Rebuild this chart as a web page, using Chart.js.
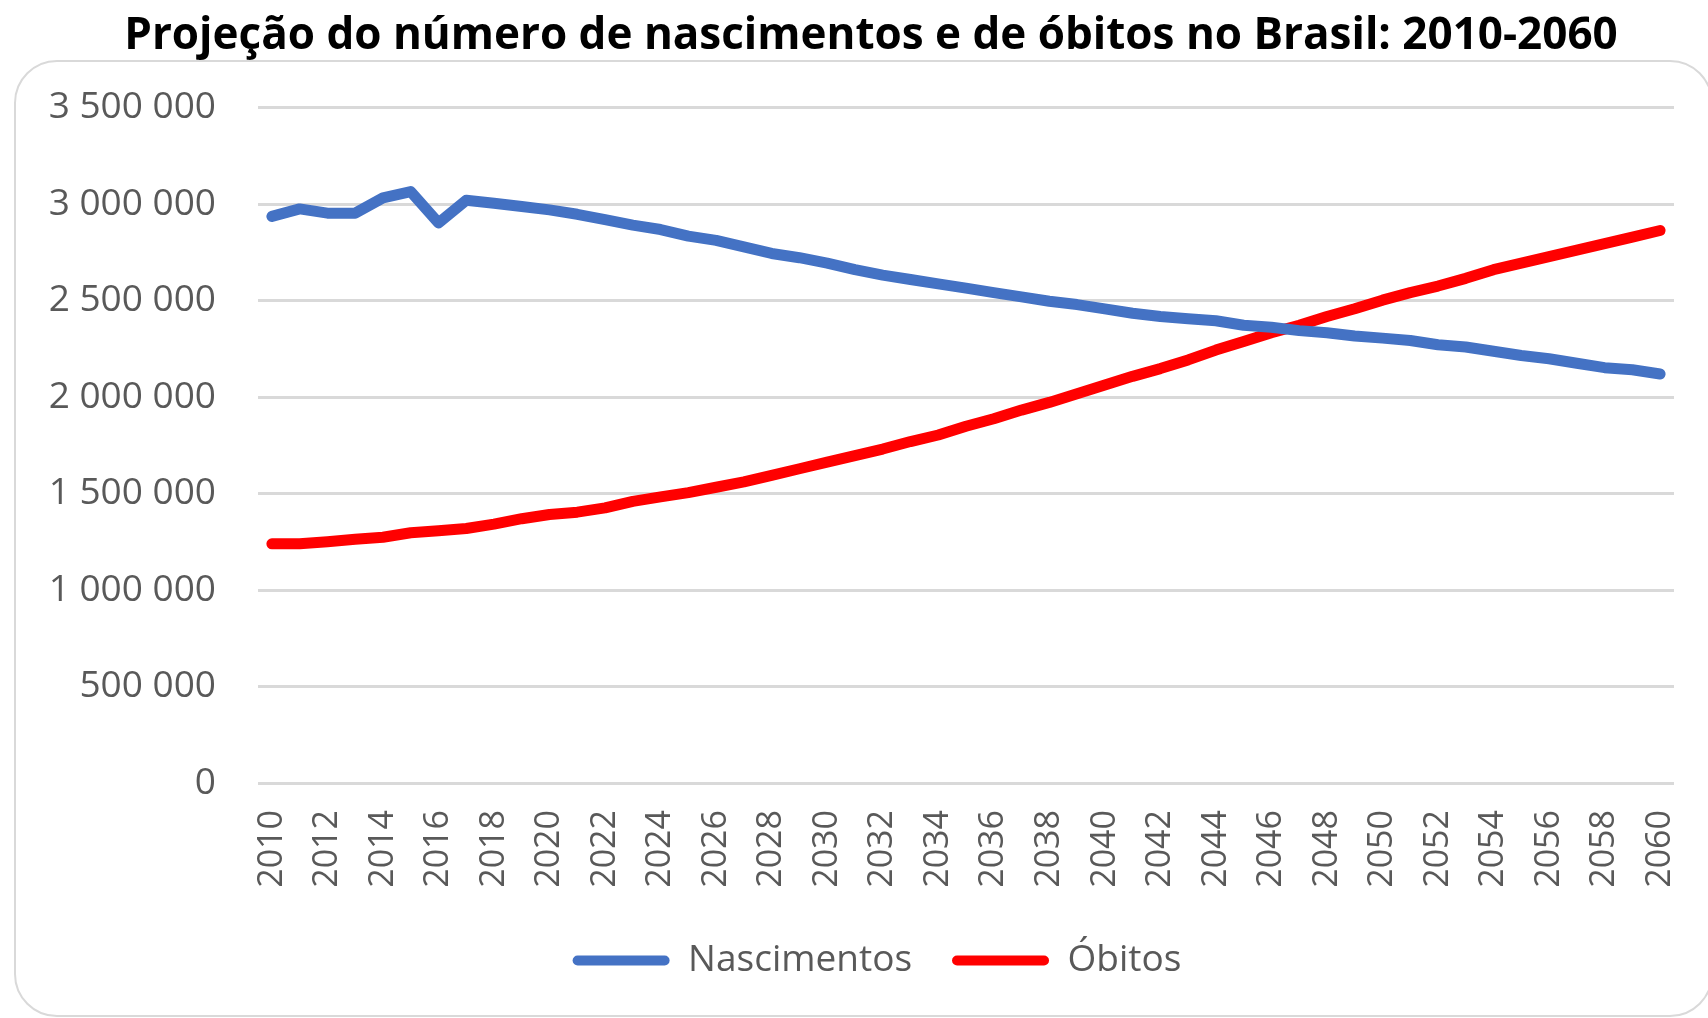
<!DOCTYPE html>
<html>
<head>
<meta charset="utf-8">
<script src="https://cdn.jsdelivr.net/npm/chart.js@4/dist/chart.umd.min.js"></script>
<style>
  html, body { margin: 0; padding: 0; background: #fff; }
  #wrap { width: 1708px; height: 1018px; }
</style>
</head>
<body>
<div id="wrap"><canvas id="chart" width="1708" height="1018"></canvas></div>
<script>
const years = [];
for (let y = 2010; y <= 2060; y++) years.push(String(y));

// values, in people
const nascimentos = [
  2937000, 2976000, 2954000, 2954000, 3033000, 3066000, 2903000, 3021000, 3005000, 2988000,
  2971000, 2948000, 2920000, 2892000, 2869000, 2835000, 2813000, 2779000, 2745000, 2723000,
  2695000, 2661000, 2633000, 2610000, 2587000, 2565000, 2542000, 2520000, 2497000, 2480000,
  2458000, 2435000, 2418000, 2407000, 2396000, 2373000, 2362000, 2345000, 2334000, 2317000,
  2306000, 2294000, 2272000, 2260000, 2238000, 2216000, 2199000, 2176000, 2153000, 2142000,
  2120000
];
const obitos = [
  1240000, 1240000, 1251000, 1263000, 1274000, 1297000, 1308000, 1319000, 1342000, 1370000,
  1392000, 1404000, 1426000, 1460000, 1483000, 1505000, 1533000, 1561000, 1595000, 1629000,
  1663000, 1697000, 1731000, 1770000, 1804000, 1849000, 1888000, 1933000, 1973000, 2018000,
  2063000, 2108000, 2148000, 2193000, 2244000, 2289000, 2334000, 2373000, 2418000, 2458000,
  2503000, 2542000, 2576000, 2616000, 2661000, 2695000, 2729000, 2762000, 2796000, 2830000,
  2864000
];

const FONT = "'Open Sans', 'DejaVu Sans', sans-serif";
const GREY = "#595959";

function fmt(v) {
  return String(v).replace(/\B(?=(\d{3})+(?!\d))/g, " ");
}

// rounded frame behind the plot, like the Excel chart area
const frame = {
  id: "frame",
  beforeDraw(chart) {
    const ctx = chart.ctx;
    ctx.save();
    ctx.strokeStyle = "#d9d9d9";
    ctx.lineWidth = 2;
    ctx.beginPath();
    ctx.roundRect(15, 61, 1697, 955, 42);
    ctx.stroke();
    ctx.restore();
  }
};

// title and legend sit a bit right of the default centre in the original
const nudge = {
  id: "nudge",
  afterLayout(chart) {
    chart.titleBlock.left += 34;
    chart.titleBlock.right += 34;
    chart.legend.left += 40;
    chart.legend.right += 40;
  }
};

new Chart(document.getElementById("chart"), {
  type: "line",
  data: {
    labels: years,
    datasets: [
      {
        label: "Nascimentos",
        data: nascimentos,
        borderColor: "#4472c4",
        backgroundColor: "#4472c4",
        borderWidth: 11,
        pointRadius: 0,
        borderCapStyle: "round",
        borderJoinStyle: "round",
        tension: 0
      },
      {
        label: "Óbitos",
        data: obitos,
        borderColor: "#ff0000",
        backgroundColor: "#ff0000",
        borderWidth: 11,
        pointRadius: 0,
        borderCapStyle: "round",
        borderJoinStyle: "round",
        tension: 0
      }
    ]
  },
  options: {
    responsive: false,
    animation: false,
    layout: { padding: { left: 0, right: 34, top: 0, bottom: 29 } },
    plugins: {
      title: {
        display: true,
        text: "Projeção do número de nascimentos e de óbitos no Brasil: 2010-2060",
        color: "#000",
        font: { family: FONT, size: 44, weight: "bold" },
        padding: { top: 10, bottom: 45 }
      },
      legend: {
        position: "bottom",
        labels: {
          color: GREY,
          font: { family: FONT, size: 37 },
          boxWidth: 97,
          boxHeight: 10,
          useBorderRadius: true,
          borderRadius: 5,
          padding: 40,
          generateLabels: chart =>
            Chart.defaults.plugins.legend.labels.generateLabels(chart)
              .map(l => Object.assign(l, { lineWidth: 0 }))
        }
      },
      tooltip: { enabled: false }
    },
    scales: {
      x: {
        offset: true,
        grid: { display: false, drawTicks: false },
        border: { display: false },
        ticks: {
          color: GREY,
          font: { family: FONT, size: 34 },
          autoSkip: false,
          minRotation: 90,
          maxRotation: 90,
          padding: 27,
          callback: function (v, i) {
            return i % 2 === 0 ? this.getLabelForValue(v) : "";
          }
        },
        afterFit: s => {
          s.height = 119;
          s.paddingRight = 0;
        }
      },
      y: {
        min: 0,
        max: 3500000,
        grid: { color: "#d9d9d9", lineWidth: 3, drawTicks: false },
        border: { display: false },
        ticks: {
          stepSize: 500000,
          color: GREY,
          font: { family: FONT, size: 37 },
          padding: 42,
          callback: v => fmt(v)
        },
        afterFit: s => { s.width = 258; }
      }
    }
  },
  plugins: [frame, nudge]
});
</script>
</body>
</html>
